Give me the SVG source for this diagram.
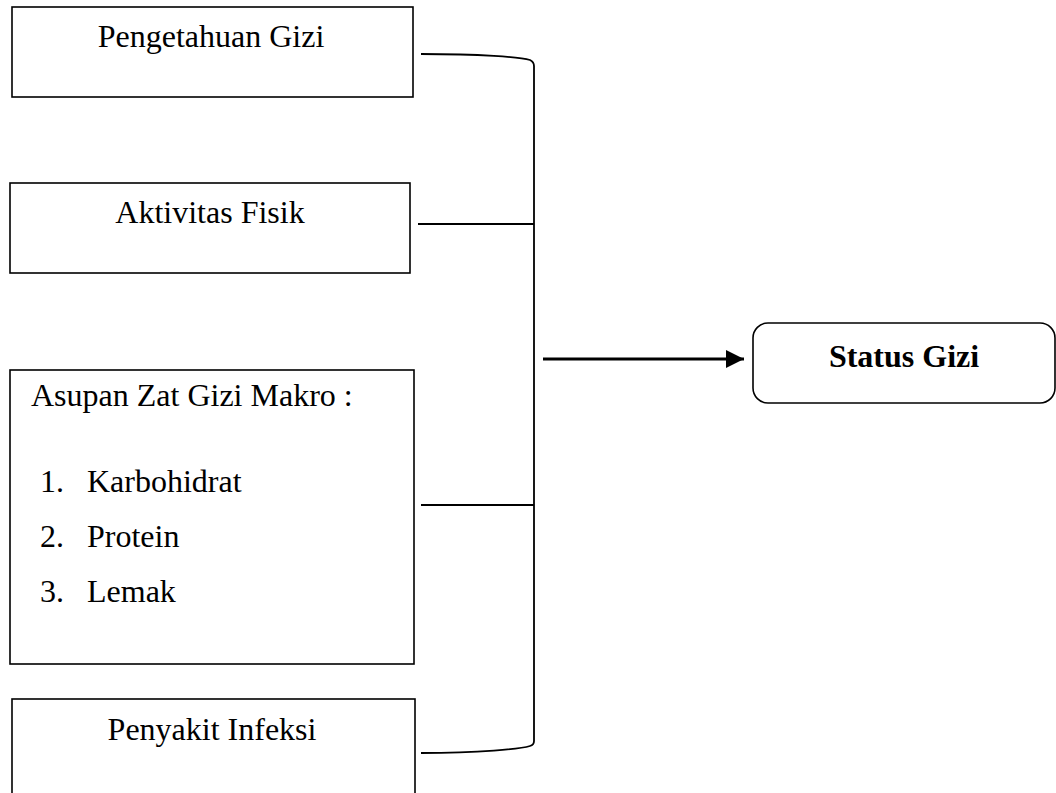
<svg xmlns="http://www.w3.org/2000/svg" width="1056" height="793" viewBox="0 0 1056 793">
<style>
.box{fill:#fff;stroke:#000;stroke-width:1.6}
.t{font-family:"Liberation Serif","Times New Roman",serif;font-size:32px;fill:#000}
.c{text-anchor:middle}
.b{font-weight:bold}
.ln{fill:none;stroke:#000;stroke-width:1.8}
</style>
<defs>
<marker id="ah" markerWidth="6" markerHeight="6" refX="6" refY="3" orient="auto" markerUnits="strokeWidth">
<path d="M0,0 L6,3 L0,6 z" fill="#000"/>
</marker>
</defs>
<rect width="1056" height="793" fill="#fff"/>
<g id="node-pengetahuan">
<rect class="box" x="12" y="7" width="401" height="90"/>
<text class="t c" x="211" y="47">Pengetahuan Gizi</text>
</g>
<g id="node-aktivitas">
<rect class="box" x="10" y="183" width="400" height="90"/>
<text class="t c" x="210" y="223">Aktivitas Fisik</text>
</g>
<g id="node-asupan">
<rect class="box" x="10" y="370" width="404" height="294"/>
<text class="t" x="31" y="406">Asupan Zat Gizi Makro :</text>
<text class="t" x="40" y="492">1.</text>
<text class="t" x="87" y="492">Karbohidrat</text>
<text class="t" x="40" y="547">2.</text>
<text class="t" x="87" y="547">Protein</text>
<text class="t" x="40" y="602">3.</text>
<text class="t" x="87" y="602">Lemak</text>
</g>
<g id="node-penyakit">
<rect class="box" x="12" y="699" width="403" height="120"/>
<text class="t c" x="212" y="740">Penyakit Infeksi</text>
</g>
<g id="node-status">
<rect class="box" x="753" y="323" width="302" height="80" rx="15" ry="15"/>
<text class="t c b" x="904" y="367">Status Gizi</text>
</g>
<g id="connectors">
<path class="ln" d="M421,54 C480,54 520,57 530,60 Q534,62 534,66 L534,741 Q534,745 530,746 C520,749 480,753 421,753"/>
<line class="ln" x1="418" y1="224" x2="534" y2="224"/>
<line class="ln" x1="421" y1="505" x2="534" y2="505"/>
<line x1="543" y1="359" x2="744" y2="359" stroke="#000" stroke-width="3" marker-end="url(#ah)"/>
</g>
</svg>
